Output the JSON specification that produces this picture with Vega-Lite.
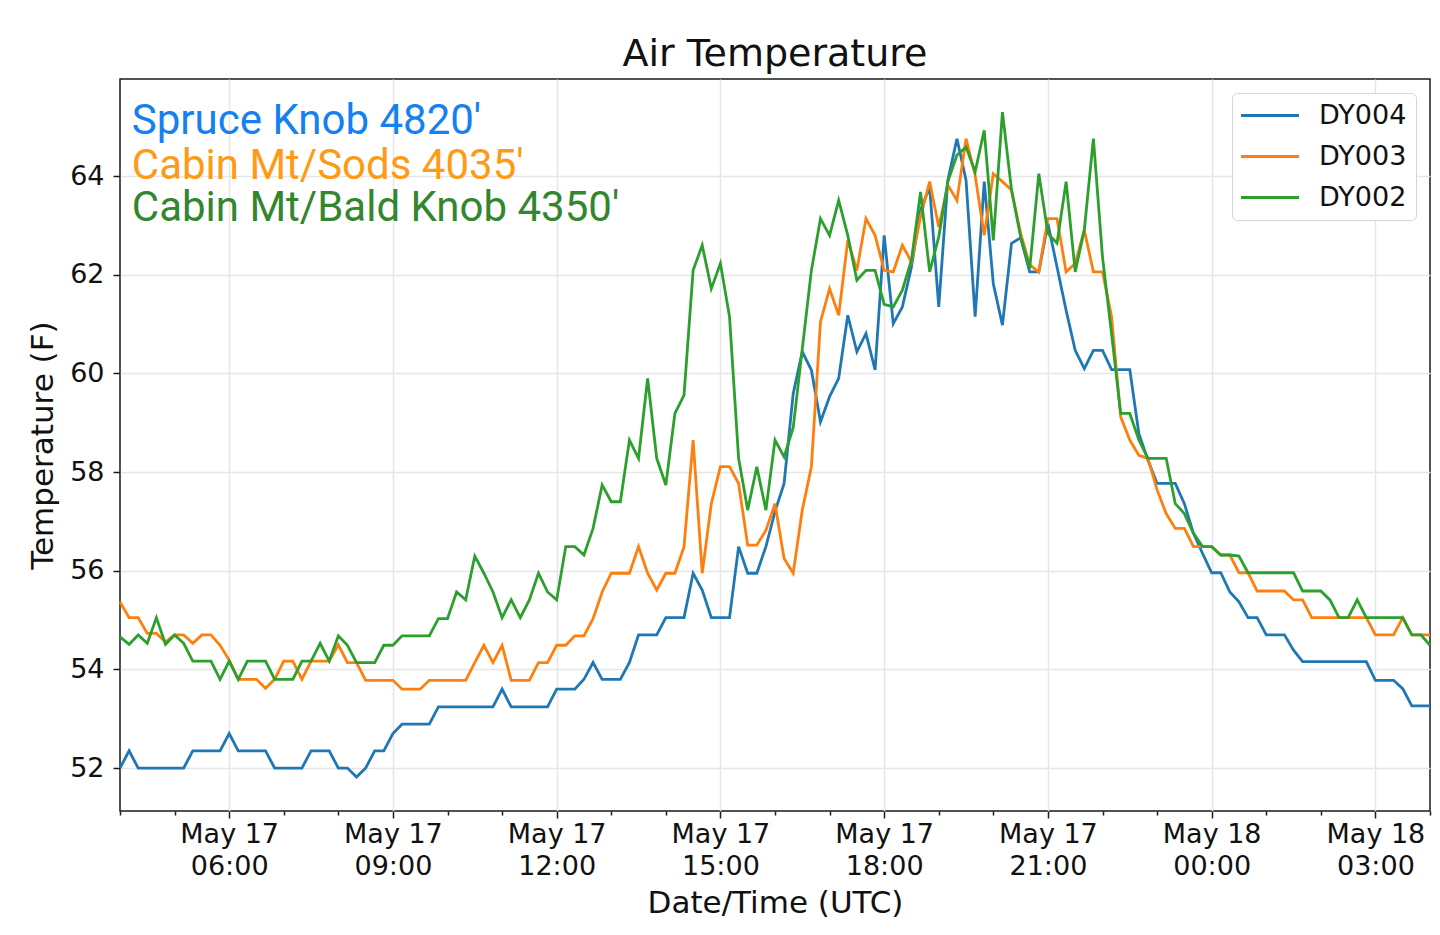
{
  "$schema": "https://vega.github.io/schema/vega-lite/v6.json",
  "width": 1310,
  "height": 732,
  "autosize": "none",
  "padding": {"left": 120, "top": 79, "right": 10, "bottom": 124},
  "background": "white",
  "title": {"text": "Air Temperature", "fontSize": 38, "font": "DejaVu Sans", "fontWeight": "normal", "color": "#111", "offset": 5, "anchor": "middle"},
  "layer": [
    {
      "data": {
        "format": {"parse": {"time": "utc:'%Y-%m-%d %H:%M'"}},
        "values": [
          {"time":"2019-05-17 04:00","site":"DY004","temp":52.0},{"time":"2019-05-17 04:10","site":"DY004","temp":52.35},{"time":"2019-05-17 04:20","site":"DY004","temp":52.0},{"time":"2019-05-17 04:30","site":"DY004","temp":52.0},{"time":"2019-05-17 04:40","site":"DY004","temp":52.0},{"time":"2019-05-17 04:50","site":"DY004","temp":52.0},
          {"time":"2019-05-17 05:00","site":"DY004","temp":52.0},{"time":"2019-05-17 05:10","site":"DY004","temp":52.0},{"time":"2019-05-17 05:20","site":"DY004","temp":52.35},{"time":"2019-05-17 05:30","site":"DY004","temp":52.35},{"time":"2019-05-17 05:40","site":"DY004","temp":52.35},{"time":"2019-05-17 05:50","site":"DY004","temp":52.35},
          {"time":"2019-05-17 06:00","site":"DY004","temp":52.7},{"time":"2019-05-17 06:10","site":"DY004","temp":52.35},{"time":"2019-05-17 06:20","site":"DY004","temp":52.35},{"time":"2019-05-17 06:30","site":"DY004","temp":52.35},{"time":"2019-05-17 06:40","site":"DY004","temp":52.35},{"time":"2019-05-17 06:50","site":"DY004","temp":52.0},
          {"time":"2019-05-17 07:00","site":"DY004","temp":52.0},{"time":"2019-05-17 07:10","site":"DY004","temp":52.0},{"time":"2019-05-17 07:20","site":"DY004","temp":52.0},{"time":"2019-05-17 07:30","site":"DY004","temp":52.35},{"time":"2019-05-17 07:40","site":"DY004","temp":52.35},{"time":"2019-05-17 07:50","site":"DY004","temp":52.35},
          {"time":"2019-05-17 08:00","site":"DY004","temp":52.0},{"time":"2019-05-17 08:10","site":"DY004","temp":52.0},{"time":"2019-05-17 08:20","site":"DY004","temp":51.82},{"time":"2019-05-17 08:30","site":"DY004","temp":52.0},{"time":"2019-05-17 08:40","site":"DY004","temp":52.35},{"time":"2019-05-17 08:50","site":"DY004","temp":52.35},
          {"time":"2019-05-17 09:00","site":"DY004","temp":52.7},{"time":"2019-05-17 09:10","site":"DY004","temp":52.89},{"time":"2019-05-17 09:20","site":"DY004","temp":52.89},{"time":"2019-05-17 09:30","site":"DY004","temp":52.89},{"time":"2019-05-17 09:40","site":"DY004","temp":52.89},{"time":"2019-05-17 09:50","site":"DY004","temp":53.24},
          {"time":"2019-05-17 10:00","site":"DY004","temp":53.24},{"time":"2019-05-17 10:10","site":"DY004","temp":53.24},{"time":"2019-05-17 10:20","site":"DY004","temp":53.24},{"time":"2019-05-17 10:30","site":"DY004","temp":53.24},{"time":"2019-05-17 10:40","site":"DY004","temp":53.24},{"time":"2019-05-17 10:50","site":"DY004","temp":53.24},
          {"time":"2019-05-17 11:00","site":"DY004","temp":53.6},{"time":"2019-05-17 11:10","site":"DY004","temp":53.24},{"time":"2019-05-17 11:20","site":"DY004","temp":53.24},{"time":"2019-05-17 11:30","site":"DY004","temp":53.24},{"time":"2019-05-17 11:40","site":"DY004","temp":53.24},{"time":"2019-05-17 11:50","site":"DY004","temp":53.24},
          {"time":"2019-05-17 12:00","site":"DY004","temp":53.6},{"time":"2019-05-17 12:10","site":"DY004","temp":53.6},{"time":"2019-05-17 12:20","site":"DY004","temp":53.6},{"time":"2019-05-17 12:30","site":"DY004","temp":53.8},{"time":"2019-05-17 12:40","site":"DY004","temp":54.14},{"time":"2019-05-17 12:50","site":"DY004","temp":53.8},
          {"time":"2019-05-17 13:00","site":"DY004","temp":53.8},{"time":"2019-05-17 13:10","site":"DY004","temp":53.8},{"time":"2019-05-17 13:20","site":"DY004","temp":54.14},{"time":"2019-05-17 13:30","site":"DY004","temp":54.7},{"time":"2019-05-17 13:40","site":"DY004","temp":54.7},{"time":"2019-05-17 13:50","site":"DY004","temp":54.7},
          {"time":"2019-05-17 14:00","site":"DY004","temp":55.05},{"time":"2019-05-17 14:10","site":"DY004","temp":55.05},{"time":"2019-05-17 14:20","site":"DY004","temp":55.05},{"time":"2019-05-17 14:30","site":"DY004","temp":55.95},{"time":"2019-05-17 14:40","site":"DY004","temp":55.61},{"time":"2019-05-17 14:50","site":"DY004","temp":55.05},
          {"time":"2019-05-17 15:00","site":"DY004","temp":55.05},{"time":"2019-05-17 15:10","site":"DY004","temp":55.05},{"time":"2019-05-17 15:20","site":"DY004","temp":56.49},{"time":"2019-05-17 15:30","site":"DY004","temp":55.95},{"time":"2019-05-17 15:40","site":"DY004","temp":55.95},{"time":"2019-05-17 15:50","site":"DY004","temp":56.49},
          {"time":"2019-05-17 16:00","site":"DY004","temp":57.2},{"time":"2019-05-17 16:10","site":"DY004","temp":57.77},{"time":"2019-05-17 16:20","site":"DY004","temp":59.59},{"time":"2019-05-17 16:30","site":"DY004","temp":60.44},{"time":"2019-05-17 16:40","site":"DY004","temp":60.07},{"time":"2019-05-17 16:50","site":"DY004","temp":59.02},
          {"time":"2019-05-17 17:00","site":"DY004","temp":59.53},{"time":"2019-05-17 17:10","site":"DY004","temp":59.9},{"time":"2019-05-17 17:20","site":"DY004","temp":61.18},{"time":"2019-05-17 17:30","site":"DY004","temp":60.44},{"time":"2019-05-17 17:40","site":"DY004","temp":60.81},{"time":"2019-05-17 17:50","site":"DY004","temp":60.07},
          {"time":"2019-05-17 18:00","site":"DY004","temp":62.8},{"time":"2019-05-17 18:10","site":"DY004","temp":61.01},{"time":"2019-05-17 18:20","site":"DY004","temp":61.35},{"time":"2019-05-17 18:30","site":"DY004","temp":62.16},{"time":"2019-05-17 18:40","site":"DY004","temp":63.31},{"time":"2019-05-17 18:50","site":"DY004","temp":63.78},
          {"time":"2019-05-17 19:00","site":"DY004","temp":61.35},{"time":"2019-05-17 19:10","site":"DY004","temp":63.92},{"time":"2019-05-17 19:20","site":"DY004","temp":64.76},{"time":"2019-05-17 19:30","site":"DY004","temp":63.92},{"time":"2019-05-17 19:40","site":"DY004","temp":61.15},{"time":"2019-05-17 19:50","site":"DY004","temp":63.89},
          {"time":"2019-05-17 20:00","site":"DY004","temp":61.82},{"time":"2019-05-17 20:10","site":"DY004","temp":60.98},{"time":"2019-05-17 20:20","site":"DY004","temp":62.64},{"time":"2019-05-17 20:30","site":"DY004","temp":62.75},{"time":"2019-05-17 20:40","site":"DY004","temp":62.06},{"time":"2019-05-17 20:50","site":"DY004","temp":62.06},
          {"time":"2019-05-17 21:00","site":"DY004","temp":63.04},{"time":"2019-05-17 21:10","site":"DY004","temp":62.16},{"time":"2019-05-17 21:20","site":"DY004","temp":61.28},{"time":"2019-05-17 21:30","site":"DY004","temp":60.47},{"time":"2019-05-17 21:40","site":"DY004","temp":60.1},{"time":"2019-05-17 21:50","site":"DY004","temp":60.47},
          {"time":"2019-05-17 22:00","site":"DY004","temp":60.47},{"time":"2019-05-17 22:10","site":"DY004","temp":60.08},{"time":"2019-05-17 22:20","site":"DY004","temp":60.08},{"time":"2019-05-17 22:30","site":"DY004","temp":60.08},{"time":"2019-05-17 22:40","site":"DY004","temp":58.78},{"time":"2019-05-17 22:50","site":"DY004","temp":58.24},
          {"time":"2019-05-17 23:00","site":"DY004","temp":57.77},{"time":"2019-05-17 23:10","site":"DY004","temp":57.77},{"time":"2019-05-17 23:20","site":"DY004","temp":57.77},{"time":"2019-05-17 23:30","site":"DY004","temp":57.36},{"time":"2019-05-17 23:40","site":"DY004","temp":56.76},{"time":"2019-05-17 23:50","site":"DY004","temp":56.35},
          {"time":"2019-05-18 00:00","site":"DY004","temp":55.96},{"time":"2019-05-18 00:10","site":"DY004","temp":55.96},{"time":"2019-05-18 00:20","site":"DY004","temp":55.57},{"time":"2019-05-18 00:30","site":"DY004","temp":55.37},{"time":"2019-05-18 00:40","site":"DY004","temp":55.05},{"time":"2019-05-18 00:50","site":"DY004","temp":55.05},
          {"time":"2019-05-18 01:00","site":"DY004","temp":54.7},{"time":"2019-05-18 01:10","site":"DY004","temp":54.7},{"time":"2019-05-18 01:20","site":"DY004","temp":54.7},{"time":"2019-05-18 01:30","site":"DY004","temp":54.39},{"time":"2019-05-18 01:40","site":"DY004","temp":54.16},{"time":"2019-05-18 01:50","site":"DY004","temp":54.16},
          {"time":"2019-05-18 02:00","site":"DY004","temp":54.16},{"time":"2019-05-18 02:10","site":"DY004","temp":54.16},{"time":"2019-05-18 02:20","site":"DY004","temp":54.16},{"time":"2019-05-18 02:30","site":"DY004","temp":54.16},{"time":"2019-05-18 02:40","site":"DY004","temp":54.16},{"time":"2019-05-18 02:50","site":"DY004","temp":54.16},
          {"time":"2019-05-18 03:00","site":"DY004","temp":53.78},{"time":"2019-05-18 03:10","site":"DY004","temp":53.78},{"time":"2019-05-18 03:20","site":"DY004","temp":53.78},{"time":"2019-05-18 03:30","site":"DY004","temp":53.61},{"time":"2019-05-18 03:40","site":"DY004","temp":53.26},{"time":"2019-05-18 03:50","site":"DY004","temp":53.26},
          {"time":"2019-05-18 04:00","site":"DY004","temp":53.26},

          {"time":"2019-05-17 04:00","site":"DY003","temp":55.37},{"time":"2019-05-17 04:10","site":"DY003","temp":55.05},{"time":"2019-05-17 04:20","site":"DY003","temp":55.05},{"time":"2019-05-17 04:30","site":"DY003","temp":54.73},{"time":"2019-05-17 04:40","site":"DY003","temp":54.73},{"time":"2019-05-17 04:50","site":"DY003","temp":54.56},
          {"time":"2019-05-17 05:00","site":"DY003","temp":54.7},{"time":"2019-05-17 05:10","site":"DY003","temp":54.7},{"time":"2019-05-17 05:20","site":"DY003","temp":54.53},{"time":"2019-05-17 05:30","site":"DY003","temp":54.7},{"time":"2019-05-17 05:40","site":"DY003","temp":54.7},{"time":"2019-05-17 05:50","site":"DY003","temp":54.49},
          {"time":"2019-05-17 06:00","site":"DY003","temp":54.19},{"time":"2019-05-17 06:10","site":"DY003","temp":53.8},{"time":"2019-05-17 06:20","site":"DY003","temp":53.8},{"time":"2019-05-17 06:30","site":"DY003","temp":53.8},{"time":"2019-05-17 06:40","site":"DY003","temp":53.62},{"time":"2019-05-17 06:50","site":"DY003","temp":53.8},
          {"time":"2019-05-17 07:00","site":"DY003","temp":54.17},{"time":"2019-05-17 07:10","site":"DY003","temp":54.17},{"time":"2019-05-17 07:20","site":"DY003","temp":53.8},{"time":"2019-05-17 07:30","site":"DY003","temp":54.17},{"time":"2019-05-17 07:40","site":"DY003","temp":54.17},{"time":"2019-05-17 07:50","site":"DY003","temp":54.17},
          {"time":"2019-05-17 08:00","site":"DY003","temp":54.5},{"time":"2019-05-17 08:10","site":"DY003","temp":54.14},{"time":"2019-05-17 08:20","site":"DY003","temp":54.14},{"time":"2019-05-17 08:30","site":"DY003","temp":53.78},{"time":"2019-05-17 08:40","site":"DY003","temp":53.78},{"time":"2019-05-17 08:50","site":"DY003","temp":53.78},
          {"time":"2019-05-17 09:00","site":"DY003","temp":53.78},{"time":"2019-05-17 09:10","site":"DY003","temp":53.6},{"time":"2019-05-17 09:20","site":"DY003","temp":53.6},{"time":"2019-05-17 09:30","site":"DY003","temp":53.6},{"time":"2019-05-17 09:40","site":"DY003","temp":53.78},{"time":"2019-05-17 09:50","site":"DY003","temp":53.78},
          {"time":"2019-05-17 10:00","site":"DY003","temp":53.78},{"time":"2019-05-17 10:10","site":"DY003","temp":53.78},{"time":"2019-05-17 10:20","site":"DY003","temp":53.78},{"time":"2019-05-17 10:30","site":"DY003","temp":54.14},{"time":"2019-05-17 10:40","site":"DY003","temp":54.49},{"time":"2019-05-17 10:50","site":"DY003","temp":54.14},
          {"time":"2019-05-17 11:00","site":"DY003","temp":54.49},{"time":"2019-05-17 11:10","site":"DY003","temp":53.78},{"time":"2019-05-17 11:20","site":"DY003","temp":53.78},{"time":"2019-05-17 11:30","site":"DY003","temp":53.78},{"time":"2019-05-17 11:40","site":"DY003","temp":54.14},{"time":"2019-05-17 11:50","site":"DY003","temp":54.14},
          {"time":"2019-05-17 12:00","site":"DY003","temp":54.49},{"time":"2019-05-17 12:10","site":"DY003","temp":54.49},{"time":"2019-05-17 12:20","site":"DY003","temp":54.68},{"time":"2019-05-17 12:30","site":"DY003","temp":54.68},{"time":"2019-05-17 12:40","site":"DY003","temp":55.03},{"time":"2019-05-17 12:50","site":"DY003","temp":55.57},
          {"time":"2019-05-17 13:00","site":"DY003","temp":55.95},{"time":"2019-05-17 13:10","site":"DY003","temp":55.95},{"time":"2019-05-17 13:20","site":"DY003","temp":55.95},{"time":"2019-05-17 13:30","site":"DY003","temp":56.49},{"time":"2019-05-17 13:40","site":"DY003","temp":55.95},{"time":"2019-05-17 13:50","site":"DY003","temp":55.61},
          {"time":"2019-05-17 14:00","site":"DY003","temp":55.95},{"time":"2019-05-17 14:10","site":"DY003","temp":55.95},{"time":"2019-05-17 14:20","site":"DY003","temp":56.49},{"time":"2019-05-17 14:30","site":"DY003","temp":58.65},{"time":"2019-05-17 14:40","site":"DY003","temp":55.95},{"time":"2019-05-17 14:50","site":"DY003","temp":57.36},
          {"time":"2019-05-17 15:00","site":"DY003","temp":58.11},{"time":"2019-05-17 15:10","site":"DY003","temp":58.11},{"time":"2019-05-17 15:20","site":"DY003","temp":57.77},{"time":"2019-05-17 15:30","site":"DY003","temp":56.52},{"time":"2019-05-17 15:40","site":"DY003","temp":56.52},{"time":"2019-05-17 15:50","site":"DY003","temp":56.82},
          {"time":"2019-05-17 16:00","site":"DY003","temp":57.36},{"time":"2019-05-17 16:10","site":"DY003","temp":56.25},{"time":"2019-05-17 16:20","site":"DY003","temp":55.95},{"time":"2019-05-17 16:30","site":"DY003","temp":57.23},{"time":"2019-05-17 16:40","site":"DY003","temp":58.11},{"time":"2019-05-17 16:50","site":"DY003","temp":61.05},
          {"time":"2019-05-17 17:00","site":"DY003","temp":61.72},{"time":"2019-05-17 17:10","site":"DY003","temp":61.18},{"time":"2019-05-17 17:20","site":"DY003","temp":62.7},{"time":"2019-05-17 17:30","site":"DY003","temp":62.09},{"time":"2019-05-17 17:40","site":"DY003","temp":63.14},{"time":"2019-05-17 17:50","site":"DY003","temp":62.8},
          {"time":"2019-05-17 18:00","site":"DY003","temp":62.09},{"time":"2019-05-17 18:10","site":"DY003","temp":62.06},{"time":"2019-05-17 18:20","site":"DY003","temp":62.6},{"time":"2019-05-17 18:30","site":"DY003","temp":62.26},{"time":"2019-05-17 18:40","site":"DY003","temp":63.18},{"time":"2019-05-17 18:50","site":"DY003","temp":63.89},
          {"time":"2019-05-17 19:00","site":"DY003","temp":62.97},{"time":"2019-05-17 19:10","site":"DY003","temp":63.82},{"time":"2019-05-17 19:20","site":"DY003","temp":63.51},{"time":"2019-05-17 19:30","site":"DY003","temp":64.76},{"time":"2019-05-17 19:40","site":"DY003","temp":64.02},{"time":"2019-05-17 19:50","site":"DY003","temp":62.8},
          {"time":"2019-05-17 20:00","site":"DY003","temp":64.05},{"time":"2019-05-17 20:10","site":"DY003","temp":63.89},{"time":"2019-05-17 20:20","site":"DY003","temp":63.72},{"time":"2019-05-17 20:30","site":"DY003","temp":62.84},{"time":"2019-05-17 20:40","site":"DY003","temp":62.2},{"time":"2019-05-17 20:50","site":"DY003","temp":62.06},
          {"time":"2019-05-17 21:00","site":"DY003","temp":63.14},{"time":"2019-05-17 21:10","site":"DY003","temp":63.14},{"time":"2019-05-17 21:20","site":"DY003","temp":62.06},{"time":"2019-05-17 21:30","site":"DY003","temp":62.23},{"time":"2019-05-17 21:40","site":"DY003","temp":62.91},{"time":"2019-05-17 21:50","site":"DY003","temp":62.06},
          {"time":"2019-05-17 22:00","site":"DY003","temp":62.06},{"time":"2019-05-17 22:10","site":"DY003","temp":61.15},{"time":"2019-05-17 22:20","site":"DY003","temp":59.12},{"time":"2019-05-17 22:30","site":"DY003","temp":58.65},{"time":"2019-05-17 22:40","site":"DY003","temp":58.34},{"time":"2019-05-17 22:50","site":"DY003","temp":58.28},
          {"time":"2019-05-17 23:00","site":"DY003","temp":57.64},{"time":"2019-05-17 23:10","site":"DY003","temp":57.16},{"time":"2019-05-17 23:20","site":"DY003","temp":56.86},{"time":"2019-05-17 23:30","site":"DY003","temp":56.86},{"time":"2019-05-17 23:40","site":"DY003","temp":56.49},{"time":"2019-05-17 23:50","site":"DY003","temp":56.49},
          {"time":"2019-05-18 00:00","site":"DY003","temp":56.49},{"time":"2019-05-18 00:10","site":"DY003","temp":56.32},{"time":"2019-05-18 00:20","site":"DY003","temp":56.32},{"time":"2019-05-18 00:30","site":"DY003","temp":55.96},{"time":"2019-05-18 00:40","site":"DY003","temp":55.96},{"time":"2019-05-18 00:50","site":"DY003","temp":55.59},
          {"time":"2019-05-18 01:00","site":"DY003","temp":55.59},{"time":"2019-05-18 01:10","site":"DY003","temp":55.59},{"time":"2019-05-18 01:20","site":"DY003","temp":55.59},{"time":"2019-05-18 01:30","site":"DY003","temp":55.41},{"time":"2019-05-18 01:40","site":"DY003","temp":55.41},{"time":"2019-05-18 01:50","site":"DY003","temp":55.05},
          {"time":"2019-05-18 02:00","site":"DY003","temp":55.05},{"time":"2019-05-18 02:10","site":"DY003","temp":55.05},{"time":"2019-05-18 02:20","site":"DY003","temp":55.05},{"time":"2019-05-18 02:30","site":"DY003","temp":55.05},{"time":"2019-05-18 02:40","site":"DY003","temp":55.05},{"time":"2019-05-18 02:50","site":"DY003","temp":55.05},
          {"time":"2019-05-18 03:00","site":"DY003","temp":54.7},{"time":"2019-05-18 03:10","site":"DY003","temp":54.7},{"time":"2019-05-18 03:20","site":"DY003","temp":54.7},{"time":"2019-05-18 03:30","site":"DY003","temp":55.05},{"time":"2019-05-18 03:40","site":"DY003","temp":54.7},{"time":"2019-05-18 03:50","site":"DY003","temp":54.7},
          {"time":"2019-05-18 04:00","site":"DY003","temp":54.7},

          {"time":"2019-05-17 04:00","site":"DY002","temp":54.66},{"time":"2019-05-17 04:10","site":"DY002","temp":54.51},{"time":"2019-05-17 04:20","site":"DY002","temp":54.7},{"time":"2019-05-17 04:30","site":"DY002","temp":54.53},{"time":"2019-05-17 04:40","site":"DY002","temp":55.05},{"time":"2019-05-17 04:50","site":"DY002","temp":54.51},
          {"time":"2019-05-17 05:00","site":"DY002","temp":54.7},{"time":"2019-05-17 05:10","site":"DY002","temp":54.53},{"time":"2019-05-17 05:20","site":"DY002","temp":54.17},{"time":"2019-05-17 05:30","site":"DY002","temp":54.17},{"time":"2019-05-17 05:40","site":"DY002","temp":54.17},{"time":"2019-05-17 05:50","site":"DY002","temp":53.8},
          {"time":"2019-05-17 06:00","site":"DY002","temp":54.17},{"time":"2019-05-17 06:10","site":"DY002","temp":53.8},{"time":"2019-05-17 06:20","site":"DY002","temp":54.17},{"time":"2019-05-17 06:30","site":"DY002","temp":54.17},{"time":"2019-05-17 06:40","site":"DY002","temp":54.17},{"time":"2019-05-17 06:50","site":"DY002","temp":53.8},
          {"time":"2019-05-17 07:00","site":"DY002","temp":53.8},{"time":"2019-05-17 07:10","site":"DY002","temp":53.8},{"time":"2019-05-17 07:20","site":"DY002","temp":54.17},{"time":"2019-05-17 07:30","site":"DY002","temp":54.17},{"time":"2019-05-17 07:40","site":"DY002","temp":54.53},{"time":"2019-05-17 07:50","site":"DY002","temp":54.17},
          {"time":"2019-05-17 08:00","site":"DY002","temp":54.68},{"time":"2019-05-17 08:10","site":"DY002","temp":54.49},{"time":"2019-05-17 08:20","site":"DY002","temp":54.14},{"time":"2019-05-17 08:30","site":"DY002","temp":54.14},{"time":"2019-05-17 08:40","site":"DY002","temp":54.14},{"time":"2019-05-17 08:50","site":"DY002","temp":54.49},
          {"time":"2019-05-17 09:00","site":"DY002","temp":54.49},{"time":"2019-05-17 09:10","site":"DY002","temp":54.68},{"time":"2019-05-17 09:20","site":"DY002","temp":54.68},{"time":"2019-05-17 09:30","site":"DY002","temp":54.68},{"time":"2019-05-17 09:40","site":"DY002","temp":54.68},{"time":"2019-05-17 09:50","site":"DY002","temp":55.03},
          {"time":"2019-05-17 10:00","site":"DY002","temp":55.03},{"time":"2019-05-17 10:10","site":"DY002","temp":55.57},{"time":"2019-05-17 10:20","site":"DY002","temp":55.41},{"time":"2019-05-17 10:30","site":"DY002","temp":56.3},{"time":"2019-05-17 10:40","site":"DY002","temp":55.95},{"time":"2019-05-17 10:50","site":"DY002","temp":55.57},
          {"time":"2019-05-17 11:00","site":"DY002","temp":55.05},{"time":"2019-05-17 11:10","site":"DY002","temp":55.41},{"time":"2019-05-17 11:20","site":"DY002","temp":55.05},{"time":"2019-05-17 11:30","site":"DY002","temp":55.41},{"time":"2019-05-17 11:40","site":"DY002","temp":55.95},{"time":"2019-05-17 11:50","site":"DY002","temp":55.57},
          {"time":"2019-05-17 12:00","site":"DY002","temp":55.41},{"time":"2019-05-17 12:10","site":"DY002","temp":56.49},{"time":"2019-05-17 12:20","site":"DY002","temp":56.49},{"time":"2019-05-17 12:30","site":"DY002","temp":56.32},{"time":"2019-05-17 12:40","site":"DY002","temp":56.86},{"time":"2019-05-17 12:50","site":"DY002","temp":57.74},
          {"time":"2019-05-17 13:00","site":"DY002","temp":57.4},{"time":"2019-05-17 13:10","site":"DY002","temp":57.4},{"time":"2019-05-17 13:20","site":"DY002","temp":58.65},{"time":"2019-05-17 13:30","site":"DY002","temp":58.28},{"time":"2019-05-17 13:40","site":"DY002","temp":59.9},{"time":"2019-05-17 13:50","site":"DY002","temp":58.28},
          {"time":"2019-05-17 14:00","site":"DY002","temp":57.74},{"time":"2019-05-17 14:10","site":"DY002","temp":59.19},{"time":"2019-05-17 14:20","site":"DY002","temp":59.56},{"time":"2019-05-17 14:30","site":"DY002","temp":62.09},{"time":"2019-05-17 14:40","site":"DY002","temp":62.6},{"time":"2019-05-17 14:50","site":"DY002","temp":61.72},
          {"time":"2019-05-17 15:00","site":"DY002","temp":62.23},{"time":"2019-05-17 15:10","site":"DY002","temp":61.15},{"time":"2019-05-17 15:20","site":"DY002","temp":58.28},{"time":"2019-05-17 15:30","site":"DY002","temp":57.23},{"time":"2019-05-17 15:40","site":"DY002","temp":58.11},{"time":"2019-05-17 15:50","site":"DY002","temp":57.23},
          {"time":"2019-05-17 16:00","site":"DY002","temp":58.65},{"time":"2019-05-17 16:10","site":"DY002","temp":58.31},{"time":"2019-05-17 16:20","site":"DY002","temp":58.9},{"time":"2019-05-17 16:30","site":"DY002","temp":60.5},{"time":"2019-05-17 16:40","site":"DY002","temp":62.09},{"time":"2019-05-17 16:50","site":"DY002","temp":63.14},
          {"time":"2019-05-17 17:00","site":"DY002","temp":62.8},{"time":"2019-05-17 17:10","site":"DY002","temp":63.51},{"time":"2019-05-17 17:20","site":"DY002","temp":62.8},{"time":"2019-05-17 17:30","site":"DY002","temp":61.89},{"time":"2019-05-17 17:40","site":"DY002","temp":62.09},{"time":"2019-05-17 17:50","site":"DY002","temp":62.09},
          {"time":"2019-05-17 18:00","site":"DY002","temp":61.4},{"time":"2019-05-17 18:10","site":"DY002","temp":61.35},{"time":"2019-05-17 18:20","site":"DY002","temp":61.69},{"time":"2019-05-17 18:30","site":"DY002","temp":62.3},{"time":"2019-05-17 18:40","site":"DY002","temp":63.68},{"time":"2019-05-17 18:50","site":"DY002","temp":62.06},
          {"time":"2019-05-17 19:00","site":"DY002","temp":62.77},{"time":"2019-05-17 19:10","site":"DY002","temp":63.89},{"time":"2019-05-17 19:20","site":"DY002","temp":64.43},{"time":"2019-05-17 19:30","site":"DY002","temp":64.59},{"time":"2019-05-17 19:40","site":"DY002","temp":64.09},{"time":"2019-05-17 19:50","site":"DY002","temp":64.93},
          {"time":"2019-05-17 20:00","site":"DY002","temp":62.7},{"time":"2019-05-17 20:10","site":"DY002","temp":65.3},{"time":"2019-05-17 20:20","site":"DY002","temp":63.72},{"time":"2019-05-17 20:30","site":"DY002","temp":62.77},{"time":"2019-05-17 20:40","site":"DY002","temp":62.13},{"time":"2019-05-17 20:50","site":"DY002","temp":64.05},
          {"time":"2019-05-17 21:00","site":"DY002","temp":62.84},{"time":"2019-05-17 21:10","site":"DY002","temp":62.64},{"time":"2019-05-17 21:20","site":"DY002","temp":63.89},{"time":"2019-05-17 21:30","site":"DY002","temp":62.06},{"time":"2019-05-17 21:40","site":"DY002","temp":62.91},{"time":"2019-05-17 21:50","site":"DY002","temp":64.76},
          {"time":"2019-05-17 22:00","site":"DY002","temp":62.36},{"time":"2019-05-17 22:10","site":"DY002","temp":60.8},{"time":"2019-05-17 22:20","site":"DY002","temp":59.19},{"time":"2019-05-17 22:30","site":"DY002","temp":59.19},{"time":"2019-05-17 22:40","site":"DY002","temp":58.65},{"time":"2019-05-17 22:50","site":"DY002","temp":58.28},
          {"time":"2019-05-17 23:00","site":"DY002","temp":58.28},{"time":"2019-05-17 23:10","site":"DY002","temp":58.28},{"time":"2019-05-17 23:20","site":"DY002","temp":57.36},{"time":"2019-05-17 23:30","site":"DY002","temp":57.16},{"time":"2019-05-17 23:40","site":"DY002","temp":56.76},{"time":"2019-05-17 23:50","site":"DY002","temp":56.49},
          {"time":"2019-05-18 00:00","site":"DY002","temp":56.49},{"time":"2019-05-18 00:10","site":"DY002","temp":56.32},{"time":"2019-05-18 00:20","site":"DY002","temp":56.32},{"time":"2019-05-18 00:30","site":"DY002","temp":56.3},{"time":"2019-05-18 00:40","site":"DY002","temp":55.96},{"time":"2019-05-18 00:50","site":"DY002","temp":55.96},
          {"time":"2019-05-18 01:00","site":"DY002","temp":55.96},{"time":"2019-05-18 01:10","site":"DY002","temp":55.96},{"time":"2019-05-18 01:20","site":"DY002","temp":55.96},{"time":"2019-05-18 01:30","site":"DY002","temp":55.96},{"time":"2019-05-18 01:40","site":"DY002","temp":55.59},{"time":"2019-05-18 01:50","site":"DY002","temp":55.59},
          {"time":"2019-05-18 02:00","site":"DY002","temp":55.59},{"time":"2019-05-18 02:10","site":"DY002","temp":55.41},{"time":"2019-05-18 02:20","site":"DY002","temp":55.05},{"time":"2019-05-18 02:30","site":"DY002","temp":55.05},{"time":"2019-05-18 02:40","site":"DY002","temp":55.41},{"time":"2019-05-18 02:50","site":"DY002","temp":55.05},
          {"time":"2019-05-18 03:00","site":"DY002","temp":55.05},{"time":"2019-05-18 03:10","site":"DY002","temp":55.05},{"time":"2019-05-18 03:20","site":"DY002","temp":55.05},{"time":"2019-05-18 03:30","site":"DY002","temp":55.05},{"time":"2019-05-18 03:40","site":"DY002","temp":54.7},{"time":"2019-05-18 03:50","site":"DY002","temp":54.7},
          {"time":"2019-05-18 04:00","site":"DY002","temp":54.49}
        ]
      },
      "mark": {"type": "line", "strokeWidth": 2.8},
      "encoding": {
        "x": {
          "field": "time",
          "type": "temporal",
          "scale": {"type": "utc", "nice": false},
          "title": "Date/Time (UTC)",
          "axis": {
            "tickCount": 24,
            "labelExpr": "utchours(datum.value) % 3 == 0 ? [utcFormat(datum.value, '%b %d'), utcFormat(datum.value, '%H:%M')] : ''",
            "labelLineHeight": 32,
            "labelPadding": 3,
            "titlePadding": 9,
            "grid": true,
            "gridOpacity": {"condition": {"test": "utchours(datum.value) % 3 == 0", "value": 1}, "value": 0},
            "tickSize": {"condition": {"test": "utchours(datum.value) % 3 == 0", "value": 7}, "value": 4}
          }
        },
        "y": {
          "field": "temp",
          "type": "quantitative",
          "scale": {"domain": [51.13, 65.97], "nice": false, "zero": false},
          "title": "Temperature (F)",
          "axis": {"values": [52, 54, 56, 58, 60, 62, 64], "labelPadding": 9, "titlePadding": 10, "grid": true}
        },
        "color": {
          "field": "site",
          "type": "nominal",
          "scale": {"domain": ["DY004", "DY003", "DY002"], "range": ["#1f77b4", "#ff7f0e", "#2ca02c"]},
          "legend": {"title": null}
        }
      }
    },
    {
      "data": {"values": [{"label": "Spruce Knob 4820'"}]},
      "mark": {"type": "text", "font": "Roboto", "fontSize": 42, "align": "left", "baseline": "alphabetic", "color": "#1580f0"},
      "encoding": {
        "text": {"field": "label"},
        "x": {"datum": {"year": 2019, "month": 5, "date": 17, "hours": 4, "minutes": 13, "utc": true}, "type": "temporal"},
        "y": {"datum": 64.85, "type": "quantitative"}
      }
    },
    {
      "data": {"values": [{"label": "Cabin Mt/Sods 4035'"}]},
      "mark": {"type": "text", "font": "Roboto", "fontSize": 42, "align": "left", "baseline": "alphabetic", "color": "#ff9a14"},
      "encoding": {
        "text": {"field": "label"},
        "x": {"datum": {"year": 2019, "month": 5, "date": 17, "hours": 4, "minutes": 13, "utc": true}, "type": "temporal"},
        "y": {"datum": 63.94, "type": "quantitative"}
      }
    },
    {
      "data": {"values": [{"label": "Cabin Mt/Bald Knob 4350'"}]},
      "mark": {"type": "text", "font": "Roboto", "fontSize": 42, "align": "left", "baseline": "alphabetic", "color": "#33862d"},
      "encoding": {
        "text": {"field": "label"},
        "x": {"datum": {"year": 2019, "month": 5, "date": 17, "hours": 4, "minutes": 13, "utc": true}, "type": "temporal"},
        "y": {"datum": 63.09, "type": "quantitative"}
      }
    }
  ],
  "config": {
    "font": "DejaVu Sans",
    "view": {"stroke": "#1a1a1a", "strokeWidth": 1.5},
    "axis": {
      "labelFontSize": 27,
      "titleFontSize": 31,
      "titleFontWeight": "normal",
      "labelColor": "#111",
      "titleColor": "#111",
      "tickColor": "#1a1a1a",
      "tickWidth": 1.5,
      "tickSize": 7,
      "domain": false,
      "gridColor": "#e6e6e6",
      "gridWidth": 1.5
    },
    "legend": {
      "orient": "top-right",
      "offset": 14,
      "labelFontSize": 27,
      "labelColor": "#111",
      "symbolType": "M-1.16,0H3.83",
      "symbolSize": 540,
      "symbolStrokeWidth": 2.8,
      "labelOffset": 51,
      "rowPadding": 13,
      "padding": 9,
      "fillColor": "white",
      "strokeColor": "#d5d5d5",
      "cornerRadius": 5
    }
  }
}
